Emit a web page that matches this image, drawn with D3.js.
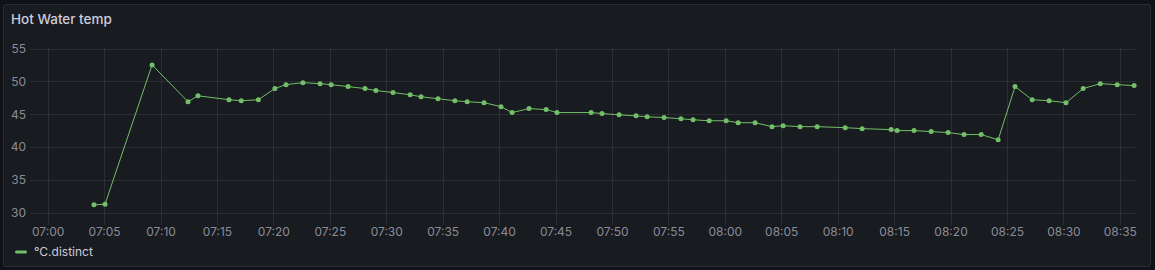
<!DOCTYPE html>
<html><head><meta charset="utf-8">
<script src="https://cdn.jsdelivr.net/npm/d3@7"></script>
<style>
html,body{margin:0;padding:0;background:#111217;}
svg{display:block;font-family:Inter,"Noto Sans",sans-serif;}
</style></head><body>
<svg id="c" width="1155" height="270"></svg>
<script>
const title = "Hot Water temp";
const seriesName = "°C.distinct";
const times = ["07:04:06","07:05:05","07:09:15","07:12:26","07:13:19","07:16:04","07:17:09","07:18:40","07:20:08","07:21:07",
"07:22:37","07:24:08","07:25:07","07:26:37","07:28:07","07:29:05","07:30:36","07:32:07","07:33:05","07:34:35",
"07:36:05","07:37:10","07:38:40","07:40:10","07:41:09","07:42:39","07:44:10","07:45:08","07:48:09","07:49:07",
"07:50:38","07:52:08","07:53:07","07:54:37","07:56:07","07:57:11","07:58:37","08:00:07","08:01:11","08:02:41",
"08:04:11","08:05:10","08:06:40","08:08:11","08:10:40","08:12:10","08:14:44","08:15:16","08:16:46","08:18:17",
"08:19:47","08:21:12","08:22:43","08:24:13","08:25:43","08:27:14","08:28:44","08:30:14","08:31:45","08:33:16",
"08:34:46","08:36:16"];
const values = [31.2,31.3,52.5,46.9,47.8,47.2,47.05,47.2,48.9,49.5,
49.8,49.65,49.5,49.2,48.9,48.6,48.3,47.95,47.65,47.35,
47.05,46.9,46.75,46.15,45.25,45.85,45.7,45.25,45.25,45.1,
44.9,44.75,44.6,44.5,44.3,44.15,44.0,44.0,43.7,43.7,
43.1,43.25,43.1,43.1,42.95,42.8,42.65,42.5,42.5,42.35,
42.2,41.9,41.9,41.1,49.2,47.2,47.05,46.75,48.9,49.65,
49.5,49.35];
const yTicks = [30,35,40,45,50,55];
const xTickLabels = ["07:00","07:05","07:10","07:15","07:20","07:25","07:30","07:35","07:40","07:45","07:50","07:55",
"08:00","08:05","08:10","08:15","08:20","08:25","08:30","08:35"];
const timeDomain = ["06:58:26","08:36:26"];
const valueDomain = [28.13,55];

const parse = d3.timeParse("%H:%M:%S");
const parseTick = d3.timeParse("%H:%M");
const data = times.map((t,i)=>({t:parse(t), v:values[i]}));

const svg = d3.select("#c");
const textCol = "rgba(204,204,220,0.65)";
const gridCol = "rgba(204,204,220,0.10)";
const lineCol = "#73bf69";

// panel
svg.append("rect").attr("x",3.5).attr("y",4.5).attr("width",1147).attr("height",262)
  .attr("rx",2).attr("fill","#181b1f").attr("stroke","rgba(204,204,220,0.12)");
svg.append("text").attr("x",11).attr("y",24).attr("fill","#ccccdc")
  .attr("font-size",13.5).attr("font-weight",500).text(title);

const L=30, R=1136, T=48.5, B=225;
const x = d3.scaleTime().domain(timeDomain.map(parse)).range([L,R]);
const y = d3.scaleLinear().domain(valueDomain).range([B,T]);

// grid
const g = svg.append("g");
g.selectAll("line.h").data(yTicks).join("line")
  .attr("x1",L).attr("x2",R).attr("y1",d=>Math.round(y(d))+0.5).attr("y2",d=>Math.round(y(d))+0.5)
  .attr("stroke",gridCol);
const xt = xTickLabels.map(s=>parseTick(s));
g.selectAll("line.v").data(xt).join("line")
  .attr("x1",d=>Math.round(x(d))+0.5).attr("x2",d=>Math.round(x(d))+0.5).attr("y1",T).attr("y2",B)
  .attr("stroke",gridCol);

// axes labels
const yAxis = d3.axisLeft(y).tickValues(yTicks).tickSize(0).tickPadding(0);
svg.append("g").attr("transform",`translate(${L-4},0)`).call(yAxis)
  .call(s=>s.select(".domain").remove())
  .call(s=>s.selectAll("text").attr("fill",textCol).attr("font-size",12).attr("font-family","Inter,'Noto Sans',sans-serif"));
const xAxis = d3.axisBottom(x).tickValues(xt).tickFormat(d3.timeFormat("%H:%M")).tickSize(0).tickPadding(0);
svg.append("g").attr("transform",`translate(0,${B+2})`).call(xAxis)
  .call(s=>s.select(".domain").remove())
  .call(s=>s.selectAll("text").attr("fill",textCol).attr("font-size",12).attr("font-family","Inter,'Noto Sans',sans-serif"));

// series
const line = d3.line().x(d=>x(d.t)).y(d=>y(d.v));
svg.append("path").datum(data).attr("d",line).attr("fill","none").attr("stroke",lineCol).attr("stroke-width",1);
svg.append("g").selectAll("circle").data(data).join("circle")
  .attr("cx",d=>x(d.t)).attr("cy",d=>y(d.v)).attr("r",2.5).attr("fill",lineCol);

// legend
svg.append("rect").attr("x",15).attr("y",250.5).attr("width",12).attr("height",3).attr("rx",1.5).attr("fill",lineCol);
svg.append("text").attr("x",34).attr("y",252).attr("dy","0.35em").attr("fill","#ccccdc")
  .attr("font-size",12).text(seriesName);
</script>
</body></html>
